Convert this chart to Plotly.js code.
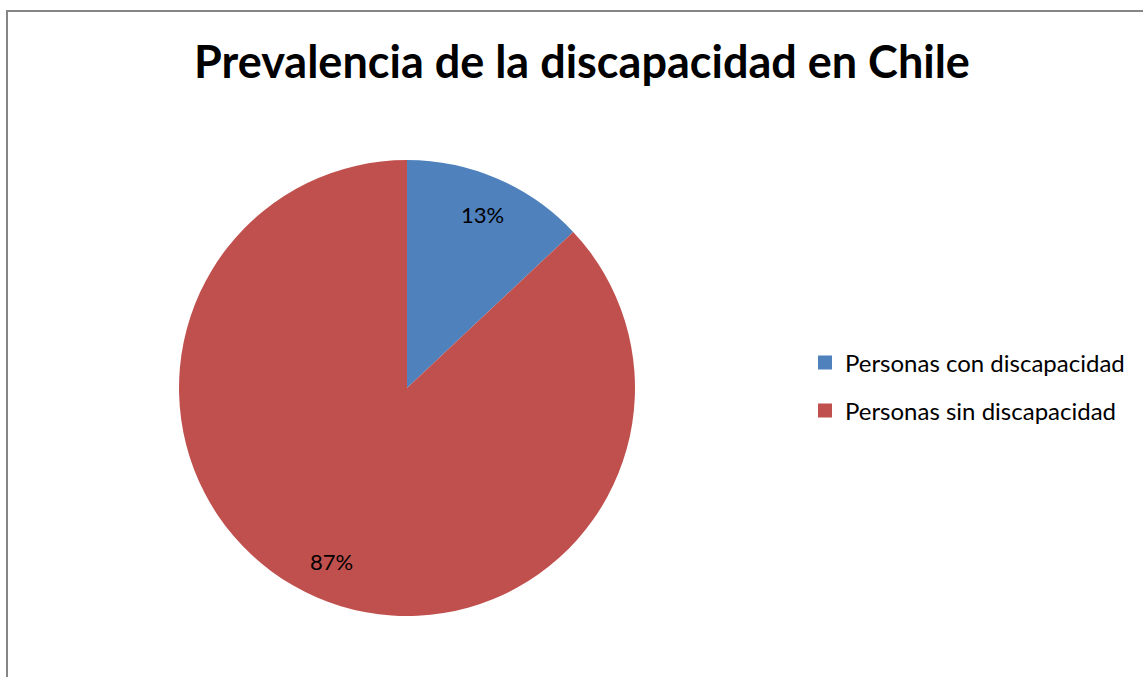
<!DOCTYPE html>
<html>
<head>
<meta charset="utf-8">
<script src="https://cdn.plot.ly/plotly-3.0.1.min.js"></script>
<style>html,body{margin:0;padding:0;background:#fff;}#chart{width:1143px;height:677px;}</style>
</head>
<body>
<div id="chart"></div>
<script>
const categories = ["Personas con discapacidad", "Personas sin discapacidad"];
const values = [13, 87];
const colors = ["#4F81BD", "#C0504D"];
const chartTitle = "Prevalencia de la discapacidad en Chile";

const W = 1143, H = 677;
const cx = 407, cy = 388, R = 228;
const FONT = "Lato, 'Open Sans', sans-serif";

const total = values.reduce((a, b) => a + b, 0);
const annotations = [];
let cum = 0;
values.forEach((v) => {
  const mid = (cum + v / 2) / total * 2 * Math.PI;
  cum += v;
  const r = 0.83 * R;
  annotations.push({
    xref: "paper", yref: "paper",
    x: (cx + r * Math.sin(mid)) / W,
    y: (H - cy + r * Math.cos(mid)) / H,
    text: Math.round(v / total * 100) + "%",
    showarrow: false,
    font: {family: FONT, size: 22, color: "#000"},
    xanchor: "center", yanchor: "middle"
  });
});

const traces = [{
  type: "pie",
  labels: categories,
  values: values,
  sort: false,
  direction: "clockwise",
  rotation: 0,
  marker: {colors: colors, line: {width: 0}},
  textinfo: "none",
  hoverinfo: "label+percent",
  showlegend: false,
  domain: {x: [(cx - R) / W, (cx + R) / W], y: [(H - cy - R) / H, (H - cy + R) / H]}
}];
categories.forEach((c, i) => {
  traces.push({
    type: "scatter", mode: "markers",
    x: [null], y: [null],
    name: c,
    marker: {symbol: "square", size: 14, color: colors[i]},
    showlegend: true,
    legend: i === 0 ? "legend" : "legend2",
    hoverinfo: "skip"
  });
});

const legendBase = {
  xanchor: "left", yanchor: "middle",
  font: {family: FONT, size: 24, color: "#000"},
  bgcolor: "rgba(0,0,0,0)", borderwidth: 0
};

const layout = {
  width: W, height: H,
  margin: {l: 0, r: 0, t: 0, b: 0},
  paper_bgcolor: "#fff", plot_bgcolor: "#fff",
  title: {
    text: "<b>" + chartTitle + "</b>",
    x: 582 / W, xanchor: "center",
    y: 1 - 62 / H, yanchor: "middle",
    font: {family: FONT, size: 45, color: "#000"}
  },
  xaxis: {visible: false, showgrid: false, zeroline: false},
  yaxis: {visible: false, showgrid: false, zeroline: false},
  legend: Object.assign({x: 805 / W, y: 1 - 363 / H}, legendBase),
  legend2: Object.assign({x: 805 / W, y: 1 - 411 / H}, legendBase),
  annotations: annotations,
  shapes: [{
    type: "rect", xref: "paper", yref: "paper",
    x0: 7 / W, x1: 1.02, y0: -0.02, y1: 1 - 11 / H,
    line: {color: "#868686", width: 2}, fillcolor: "rgba(0,0,0,0)", layer: "below"
  }]
};

Plotly.newPlot("chart", traces, layout, {displayModeBar: false, staticPlot: true});
</script>
</body>
</html>
